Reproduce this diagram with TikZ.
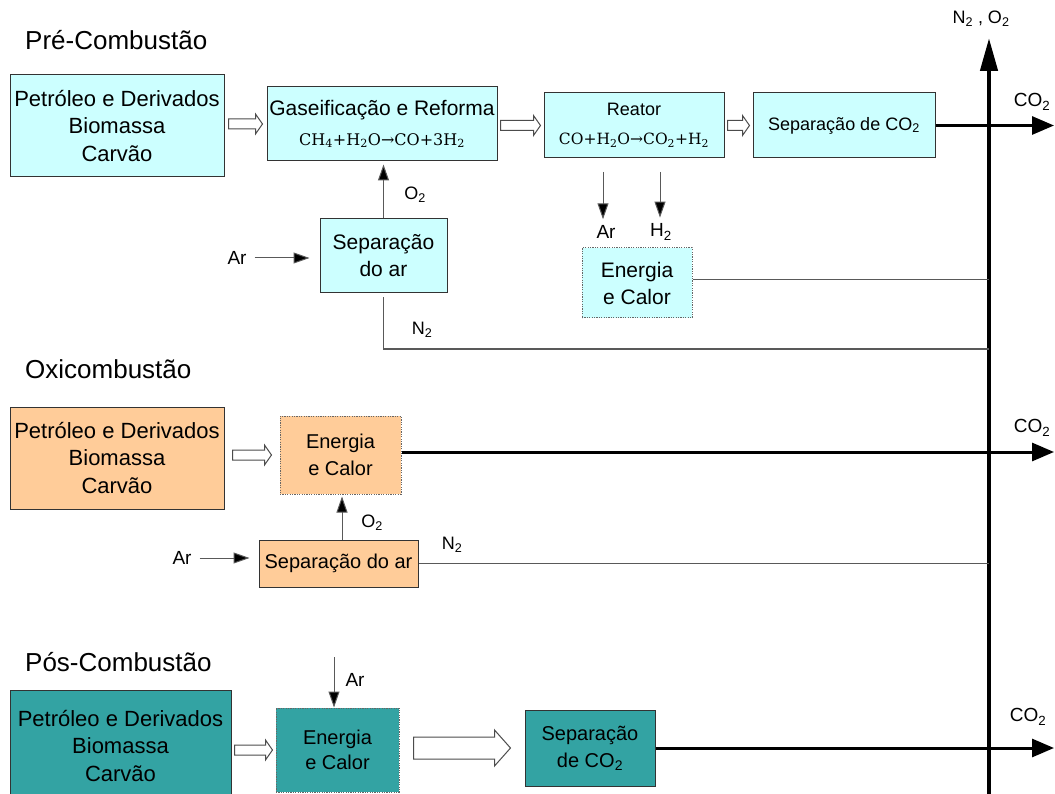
\documentclass[tikz,border=0pt]{standalone}
\usepackage{fontspec}
\setmainfont{Liberation Sans}
\newfontfamily\formfont{DejaVu Serif}
\usetikzlibrary{arrows.meta,calc}
\definecolor{cyanbox}{HTML}{CCFFFF}
\definecolor{orangebox}{HTML}{FFCC99}
\definecolor{tealbox}{HTML}{33A3A3}
\newcommand\sub[1]{\textsubscript{#1}}
\newcommand\fs[1]{\fontsize{#1}{#1}\selectfont}
% hollow arrow between two named nodes: #1 from, #2 to, #3 gap, #4 shaft half, #5 head half, #6 head length
\newcommand\hollowarrow[6]{%
  \draw[hollow] let \p1=($(#1.east)+(#3,0)$), \p2=($(#2.west)-(#3,0)$) in
    (\x1,\y2+#4pt) -- (\x2-#6pt,\y2+#4pt) -- (\x2-#6pt,\y2+#5pt) -- (\x2,\y2)
    -- (\x2-#6pt,\y2-#5pt) -- (\x2-#6pt,\y2-#4pt) -- (\x1,\y2-#4pt) -- cycle;}
\begin{document}
\begin{tikzpicture}[x=1pt,y=-1pt,
  box/.style={draw=black!80, line width=1pt, align=center, inner sep=0pt},
  dotbox/.style={box, draw=black!60, dash pattern=on 1.2pt off 1.2pt},
  srctext/.style={font=\fontsize{22}{27.5}\selectfont},
  hollow/.style={draw=black!70, fill=white, line width=1pt},
  thin/.style={draw=black!65, line width=1pt},
  thinarrow/.style={thin, -{Triangle[length=16pt,width=11pt,fill=black]}},
  outarrow/.style={draw=black, line width=3pt, -{Triangle[length=22pt,width=18pt]}},
  lbl/.style={inner sep=0pt, font=\fs{19}},
  sublbl/.style={inner sep=0pt, font=\fs{18}},
  title/.style={inner sep=0pt, anchor=west, font=\fs{26}}]
\useasboundingbox (0,0) rectangle (1055,794);
\clip (0,0) rectangle (1055,794);

% ---------- axis ----------
\coordinate (axbot) at (989,800);
\coordinate (axtop) at (989,38);
\coordinate (o1) at (1054,0);
\draw[line width=4.5pt, -{Triangle[length=33pt,width=17pt]}] (axbot) -- (axtop);
\node[sublbl] (n2o2) at (981,19) {N\sub{2} , O\sub{2}};

% ---------- Pre-Combustao ----------
\node[title] (t1) at (25,40) {Pré-Combustão};
\node[box, fill=cyanbox, minimum width=214pt, minimum height=102pt, srctext] (src1) at (117,126)
  {Petróleo e Derivados\\Biomassa\\Carvão};
\node[box, fill=cyanbox, minimum width=230pt, minimum height=74pt, font=\fontsize{21}{30}\selectfont] (gas) at (382,124)
  {Gaseificação e Reforma\\
   {\formfont\fontsize{16}{30}\selectfont CH\sub{4}+H\sub{2}O→CO+3H\sub{2}}};
\node[box, fill=cyanbox, minimum width=180pt, minimum height=65pt, font=\fontsize{18}{29}\selectfont] (reat) at (634,125.5)
  {Reator\\
   {\formfont\fontsize{15.5}{29}\selectfont CO+H\sub{2}O→CO\sub{2}+H\sub{2}}};
\node[box, fill=cyanbox, minimum width=182pt, minimum height=65pt, font=\fs{18}] (sep1) at (844,125.5)
  {Separação de CO\sub{2}};
\hollowarrow{src1}{gas}{4}{5}{10}{7}
\hollowarrow{gas}{reat}{3}{5}{10}{7}
\hollowarrow{reat}{sep1}{3}{5}{10}{7}
\draw[outarrow] (sep1.east) -- (sep1.east -| o1);
\node[lbl] (co2a) at (1032,102) {CO\sub{2}};

\node[box, fill=cyanbox, minimum width=127pt, minimum height=74pt, font=\fontsize{21}{27}\selectfont] (sar1) at (383.5,256)
  {Separação\\do ar};
\draw[thinarrow, shorten >=3pt] (sar1.north) -- (sar1.north |- gas.south);
\node[sublbl] (o2a) at (415,195) {O\sub{2}};
\node[lbl] (ar1) at (237,258) {Ar};
\draw[thinarrow, shorten <=8pt, shorten >=10pt] (ar1.east) -- (ar1.east -| sar1.west);
\coordinate (n2p) at (989,349);
\draw[thin] ([yshift=-4pt]sar1.south) |- (n2p);
\node[sublbl] (n2a) at (422,330) {N\sub{2}};

\node[lbl] (arR) at (606,232) {Ar};
\node[lbl] (h2R) at (661,232) {H\sub{2}};
\coordinate (r1) at (603,172);
\coordinate (r2) at (660,172);
\draw[thinarrow, shorten >=6pt] (r1) -- (r1 |- arR.north);
\draw[thinarrow, shorten >=6pt] (r2) -- (r2 |- h2R.north);
\node[dotbox, fill=cyanbox, minimum width=110pt, minimum height=70pt, font=\fontsize{21}{27}\selectfont] (ene1) at (637,283)
  {Energia\\e Calor};
\draw[thin] ([yshift=3pt]ene1.east) -- ([yshift=3pt]ene1.east -| axtop);

% ---------- Oxicombustao ----------
\node[title] (t2) at (25,369) {Oxicombustão};
\node[box, fill=orangebox, minimum width=214pt, minimum height=102pt, srctext] (src2) at (117,458)
  {Petróleo e Derivados\\Biomassa\\Carvão};
\node[dotbox, fill=orangebox, minimum width=121pt, minimum height=78pt, font=\fontsize{20}{27}\selectfont] (ene2) at (340.5,455)
  {Energia\\e Calor};
\hollowarrow{src2}{ene2}{8}{5}{10}{7}
\draw[outarrow] ([yshift=3pt]ene2.east) -- ([yshift=3pt]ene2.east -| o1);
\node[lbl] (co2b) at (1032,428) {CO\sub{2}};
\node[box, fill=orangebox, minimum width=159pt, minimum height=47pt, font=\fs{20}] (sar2) at (338.5,563.5)
  {Separação do ar};
\draw[thinarrow, shorten >=2pt] ([xshift=3.5pt]sar2.north) -- ([xshift=3.5pt]sar2.north |- ene2.south);
\node[sublbl] (o2b) at (372,523) {O\sub{2}};
\node[lbl] (ar2) at (182,558) {Ar};
\draw[thinarrow, shorten <=8pt, shorten >=9pt] (ar2.east) -- (ar2.east -| sar2.west);
\draw[thin] (sar2.east) -- (sar2.east -| axtop);
\node[sublbl] (n2b) at (452,545) {N\sub{2}};

% ---------- Pos-Combustao ----------
\node[title] (t3) at (25,662) {Pós-Combustão};
\node[box, fill=tealbox, minimum width=221pt, minimum height=112pt, srctext] (src3) at (120.5,746)
  {Petróleo e Derivados\\Biomassa\\Carvão};
\node[dotbox, fill=tealbox, minimum width=123pt, minimum height=84pt, font=\fontsize{20}{25}\selectfont] (ene3) at (337.5,750)
  {Energia\\e Calor};
\hollowarrow{src3}{ene3}{3}{5}{10}{7}
\node[lbl] (ar3) at (355,680) {Ar};
\coordinate (a3) at (334,657);
\draw[thinarrow] (a3) -- (a3 |- ene3.north);
\node[box, fill=tealbox, minimum width=130pt, minimum height=76pt, font=\fontsize{20}{27}\selectfont] (sep3) at (590,748)
  {Separação\\de CO\sub{2}};
\hollowarrow{ene3}{sep3}{14}{11}{18}{16}
\draw[outarrow] (sep3.east) -- (sep3.east -| o1);
\node[lbl] (co2c) at (1028,717) {CO\sub{2}};
\end{tikzpicture}
\end{document}
